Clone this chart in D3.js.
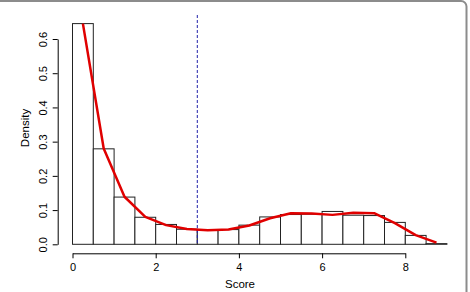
<!DOCTYPE html>
<html>
<head>
<meta charset="utf-8">
<script src="https://cdn.jsdelivr.net/npm/d3@7"></script>
<style>
  body { margin: 0; background: #fff; }
  svg text { font-family: "Liberation Sans", Arial, sans-serif; }
</style>
</head>
<body>
<div id="vis-container"></div>
<script>
// Histogram bins (left edges, width 0.5) and their densities
const binStarts = [0, 0.5, 1, 1.5, 2, 2.5, 3, 3.5, 4, 4.5, 5, 5.5, 6, 6.5, 7, 7.5, 8, 8.5];
const binDensity = [0.645, 0.279, 0.138, 0.079, 0.058, 0.044, 0.043, 0.043, 0.056, 0.080,
                    0.087, 0.088, 0.096, 0.085, 0.084, 0.064, 0.026, 0.002];
const binWidth = 0.5;

// Red density line (points at bin midpoints)
const curveX = [0.25, 0.75, 1.25, 1.75, 2.25, 2.75, 3.25, 3.75, 4.25, 4.75,
                5.25, 5.75, 6.25, 6.75, 7.25, 7.75, 8.25, 8.75];
const curveY = [0.645, 0.28, 0.139, 0.08, 0.056, 0.045, 0.041, 0.043, 0.055, 0.076,
                0.091, 0.09, 0.086, 0.092, 0.091, 0.062, 0.027, 0.005];

// Cutoff marker and axis ticks
const cutoff = 3;
const xTicks = [0, 2, 4, 6, 8];
const yTicks = [0, 0.1, 0.2, 0.3, 0.4, 0.5, 0.6];

const width = 470;
const height = 292;

const svg = d3.select("#vis-container")
  .append("svg")
  .attr("width", width)
  .attr("height", height);

// Frame around the figure (top and right edges only)
svg.append("path")
  .attr("d", `M0,1 H461 A5.5,5.5 0 0 1 466.5,6.5 V${height}`)
  .attr("fill", "none")
  .attr("stroke", "#8c8c8c")
  .attr("stroke-width", 2);

// Scales
const x = d3.scaleLinear().domain([0, 8]).range([72.5, 405.3]);
const y = d3.scaleLinear().domain([0, 0.6]).range([244.3, 39]);

// Bars
svg.selectAll(".bar")
  .data(binStarts)
  .enter()
  .append("rect")
  .attr("class", "bar")
  .attr("x", d => x(d))
  .attr("y", (d, i) => y(binDensity[i]))
  .attr("width", d => x(d + binWidth) - x(d))
  .attr("height", (d, i) => y(0) - y(binDensity[i]))
  .attr("fill", "#fff")
  .attr("stroke", "#222")
  .attr("stroke-width", 1);

// Cutoff line
svg.append("line")
  .attr("x1", x(cutoff)).attr("x2", x(cutoff))
  .attr("y1", 15).attr("y2", y(0))
  .attr("stroke", "#2222aa")
  .attr("stroke-width", 1)
  .attr("stroke-dasharray", "3,2");

// Density line
const line = d3.line()
  .x((d, i) => x(curveX[i]))
  .y(d => y(d));

svg.append("path")
  .datum(curveY)
  .attr("d", line)
  .attr("fill", "none")
  .attr("stroke", "#e00000")
  .attr("stroke-width", 2.5)
  .attr("stroke-linejoin", "round");

// x axis
const xAxis = svg.append("g")
  .attr("transform", "translate(0,253.3)")
  .call(d3.axisBottom(x).tickValues(xTicks).tickSize(5).tickSizeOuter(0).tickPadding(5));
xAxis.selectAll("text").attr("font-size", "11px").attr("fill", "#000").style("font-family", "Liberation Sans, Arial, sans-serif");
xAxis.selectAll("path, line").attr("stroke", "#000");

// y axis
const yAxis = svg.append("g")
  .attr("transform", "translate(57.7,0)")
  .call(d3.axisLeft(y).tickValues(yTicks).tickSize(5).tickSizeOuter(0)
    .tickFormat(d3.format(".1f")));
yAxis.selectAll("path, line").attr("stroke", "#000");
yAxis.selectAll(".tick text")
  .attr("x", 0)
  .attr("y", 0)
  .attr("dy", "0.35em")
  .attr("text-anchor", "middle")
  .attr("transform", "translate(-14.7,0) rotate(-90)")
  .attr("font-size", "11px")
  .attr("fill", "#000")
  .style("font-family", "Liberation Sans, Arial, sans-serif");

// Axis titles
svg.append("text")
  .attr("x", 240)
  .attr("y", 288)
  .attr("text-anchor", "middle")
  .attr("font-size", "11.5px")
  .text("Score");

svg.append("text")
  .attr("transform", "translate(29,128) rotate(-90)")
  .attr("text-anchor", "middle")
  .attr("font-size", "11.5px")
  .text("Density");
</script>
</body>
</html>
